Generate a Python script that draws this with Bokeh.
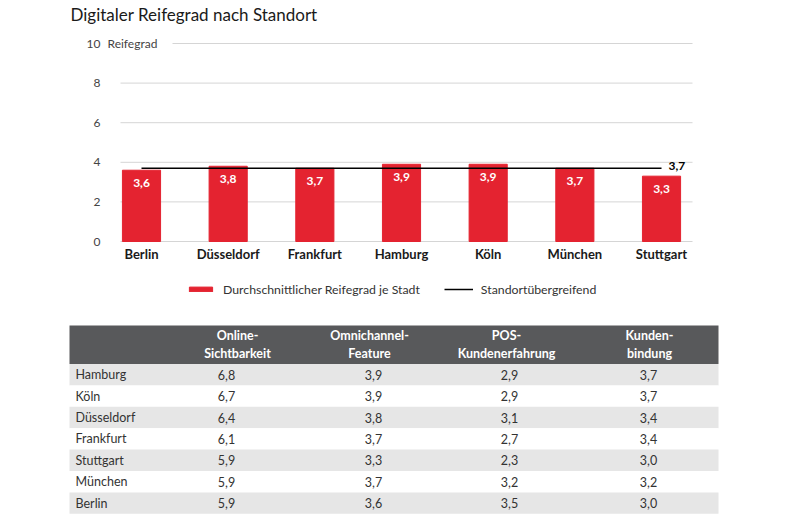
from bokeh.plotting import figure
from bokeh.models import Range1d, FixedTicker, Legend, LegendItem, Label, LinearAxis
from bokeh.core.properties import value
from bokeh.embed import file_html
from bokeh.resources import INLINE

FONT = "Lato"

# ---------------- data ----------------
title = "Digitaler Reifegrad nach Standort"
cities = ["Berlin", "Düsseldorf", "Frankfurt", "Hamburg", "Köln", "München", "Stuttgart"]
reifegrad = [3.6, 3.8, 3.7, 3.9, 3.9, 3.7, 3.3]
overall = 3.7
y_ticks = [0, 2, 4, 6, 8, 10]
y_axis_label = "Reifegrad"
legend_bar = "Durchschnittlicher Reifegrad je Stadt"
legend_line = "Standortübergreifend"

table_headers = ["Online-\nSichtbarkeit", "Omnichannel-\nFeature", "POS-\nKundenerfahrung", "Kunden-\nbindung"]
table_cities = ["Hamburg", "Köln", "Düsseldorf", "Frankfurt", "Stuttgart", "München", "Berlin"]
online = [6.8, 6.7, 6.4, 6.1, 5.9, 5.9, 5.9]
omni = [3.9, 3.9, 3.8, 3.7, 3.3, 3.7, 3.6]
pos = [2.9, 2.9, 3.1, 2.7, 2.3, 3.2, 3.5]
kunden = [3.7, 3.7, 3.4, 3.4, 3.0, 3.2, 3.0]


def de(v):
    return f"{v:.1f}".replace(".", ",")


RED = "#E42330"
TXT = "#333333"
GRID = "#D5D5D5"

# ---------------- geometry (page pixels) ----------------
W, H = 788, 514
PAGE_L, PAGE_T = 0, 0
first_bar_px = 141.0      # page x of first category centre
cat_step_px = 86.67       # page px per category
y0_px = 241.0             # page y of value 0
unit_px = 19.8            # page px per value unit


def cx(px):   # page x -> category-axis data x
    return (px - first_bar_px) / cat_step_px


def vy(py):   # page y -> value-axis data y
    return (y0_px - py) / unit_px


p = figure(width=W, height=H, output_backend="svg", toolbar_location=None,
           x_range=Range1d(cx(PAGE_L), cx(PAGE_L + W)),
           y_range=Range1d(vy(PAGE_T + H), vy(PAGE_T)),
           x_axis_location=None, y_axis_location=None, min_border=0)
p.extra_x_ranges = {"px": Range1d(PAGE_L, PAGE_L + W)}
p.extra_y_ranges = {"py": Range1d(PAGE_T + H, PAGE_T)}
p.outline_line_color = None
p.grid.visible = False

# title
p.add_layout(Label(x=70, y=14, x_range_name="px", y_range_name="py", text=title,
                   text_baseline="alphabetic", text_font=FONT, text_font_size="17px",
                   text_color="#1a1a1a"))

# gridlines
idx = list(range(len(cities)))
grid_x0, grid_x1, label_end = cx(120), cx(692), cx(172)
x0s = [label_end if t == max(y_ticks) else grid_x0 for t in y_ticks]
p.segment(x0=x0s, y0=y_ticks, x1=[grid_x1] * len(y_ticks), y1=y_ticks, line_color=GRID, line_width=1)

p.add_layout(Label(x=cx(104), y=max(y_ticks), x_offset=3, text=y_axis_label, text_baseline="middle",
                   text_font=FONT, text_font_size="12px", text_color="#444444"))

bars = p.vbar(x=idx, top=reifegrad, width=0.44, color=RED)
p.text(x=idx, y=reifegrad, text=[de(v) for v in reifegrad], text_align="center", text_baseline="middle",
       y_offset=13, text_color="white", text_font=value(FONT), text_font_style="bold", text_font_size="12px")

avg_line = p.line(x=[idx[0], idx[-1]], y=[overall, overall], line_color="black", line_width=1.5)
p.text(x=[idx[-1]], y=[overall], text=[de(overall)], x_offset=7, y_offset=-2, text_align="left",
       text_baseline="middle", text_color="black", text_font=value(FONT), text_font_style="bold",
       text_font_size="12px")

yaxis = LinearAxis(ticker=FixedTicker(ticks=y_ticks), fixed_location=cx(104))
yaxis.axis_line_color = None
yaxis.major_tick_line_color = None
yaxis.minor_tick_line_color = None
yaxis.major_tick_out = 0
yaxis.major_tick_in = 0
yaxis.minor_tick_out = 0
yaxis.major_label_standoff = 4
yaxis.major_label_text_font = FONT
yaxis.major_label_text_font_size = "12px"
yaxis.major_label_text_color = "#444444"
p.add_layout(yaxis, "left")

xaxis = LinearAxis(ticker=FixedTicker(ticks=idx), fixed_location=0)
xaxis.major_label_overrides = {i: c for i, c in zip(idx, cities)}
xaxis.axis_line_color = None
xaxis.major_tick_line_color = None
xaxis.minor_tick_line_color = None
xaxis.major_tick_out = 0
xaxis.major_tick_in = 0
xaxis.minor_tick_out = 0
xaxis.major_label_standoff = 4
xaxis.major_label_text_font = FONT
xaxis.major_label_text_font_style = "bold"
xaxis.major_label_text_font_size = "13px"
xaxis.major_label_text_color = "#1a1a1a"
p.add_layout(xaxis, "below")

legend = Legend(items=[LegendItem(label=legend_bar, renderers=[bars]),
                       LegendItem(label=legend_line, renderers=[avg_line])],
                orientation="horizontal", location=(186, 217),
                glyph_width=29, glyph_height=6, label_height=16, label_standoff=8, spacing=24,
                padding=0, margin=0, border_line_color=None, background_fill_alpha=0,
                label_text_font=FONT, label_text_font_size="12.3px", label_text_color=TXT)
p.add_layout(legend)

# ---------------- table ----------------
tbl_left, tbl_right = 69, 718
head_top, head_h, row_h = 325, 38.5, 21.4
head_x = [237, 369, 506, 649]
val_x = [226, 373, 509, 648]
n = len(table_cities)

p.quad(left=[tbl_left], right=[tbl_right], top=[head_top], bottom=[head_top + head_h],
       fill_color="#58595B", line_color=None, x_range_name="px", y_range_name="py")
tops = [head_top + head_h + i * row_h for i in range(n)]
bots = [head_top + head_h + (i + 1) * row_h for i in range(n)]
fills = ["#E6E6E6" if i % 2 == 0 else "#FFFFFF" for i in range(n)]
p.quad(left=[tbl_left] * n, right=[tbl_right] * n, top=tops, bottom=bots, fill_color=fills,
       line_color=None, x_range_name="px", y_range_name="py")

p.text(x=head_x, y=[head_top + head_h / 2] * len(head_x), text=table_headers, text_align="center",
       text_baseline="middle", text_color="white", text_font=value(FONT), text_font_style="bold",
       text_font_size="12.5px", text_line_height=1.22, x_range_name="px", y_range_name="py")

mids = [(a + b) / 2 for a, b in zip(tops, bots)]
p.text(x=[tbl_left + 6] * n, y=mids, text=table_cities, text_align="left", text_baseline="middle",
       text_color=TXT, text_font=value(FONT), text_font_size="12.5px", x_range_name="px", y_range_name="py")
for x_c, col in zip(val_x, [online, omni, pos, kunden]):
    p.text(x=[x_c] * n, y=mids, text=[de(v) for v in col], text_align="center", text_baseline="middle",
           text_color=TXT, text_font=value(FONT), text_font_size="12.5px", x_range_name="px", y_range_name="py")

open("out.html", "w").write(file_html(p, INLINE))
